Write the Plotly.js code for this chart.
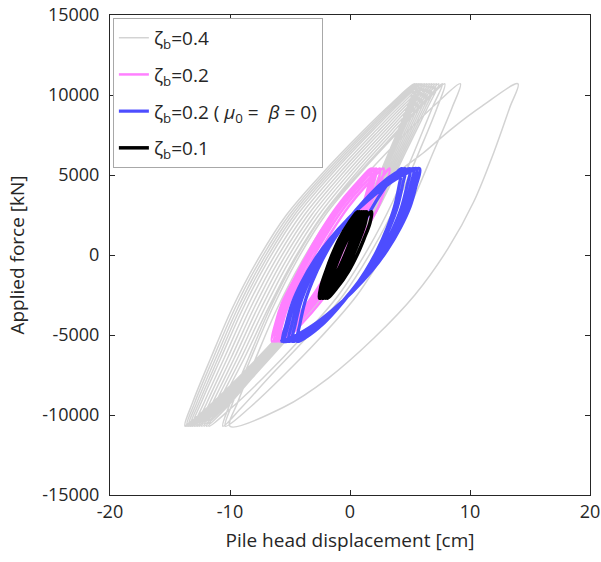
<!DOCTYPE html>
<html>
<head>
<meta charset="utf-8">
<script src="https://cdn.plot.ly/plotly-3.0.1.min.js"></script>
<style>html,body{margin:0;padding:0;background:#fff;}#chart{width:601px;height:562px;}</style>
</head>
<body>
<div id="chart"></div>
<script>
// ---- Data (displacement in cm, force in kN) ----
const seriesNames = [
  "ζ<sub>b</sub>=0.4",
  "ζ<sub>b</sub>=0.2",
  "ζ<sub>b</sub>=0.2 ( <i>μ</i><sub>0</sub> =  <i>β</i> = 0)",
  "ζ<sub>b</sub>=0.1"
];

// zeta_b = 0.4 (grey)
const grayX = [
  0,0.5,1.3,2.5,4.2,6.1,8.5,11,14,
  13.3,12.0,10.3,8.2,5.4,2.0,-1.8,-5.5,-10,
  -9.35,-7.85,-6.05,-4.05,-1.55,1.55,4.75,7.25,9.2,
  8.5,6.95,5.15,3.1,0.6,-2.5,-5.75,-8.3,-10.4,
  -9.75,-8.25,-6.45,-4.5,-2.05,0.95,4.0,6.2,7.9,
  7.25,5.75,3.95,1.95,-0.55,-3.65,-6.8,-9.0,-10.6,
  -9.95,-8.45,-6.65,-4.7,-2.25,0.8,3.85,6.05,7.7,
  6.85,5.35,3.55,1.55,-0.95,-4.05,-7.25,-9.8,-11.75,
  -10.7,-8.8,-6.8,-4.8,-2.3,0.6,3.6,5.8,7.4,
  6.45,4.65,2.65,0.45,-2.05,-5.15,-8.15,-10.25,-11.95,
  -10.94,-9.08,-7.1,-5.1,-2.6,0.32,3.34,5.57,7.2,
  6.28,4.51,2.53,0.35,-2.15,-5.25,-8.27,-10.41,-12.15,
  -11.18,-9.36,-7.4,-5.4,-2.9,0.04,3.08,5.34,7.0,
  6.11,4.37,2.41,0.25,-2.25,-5.35,-8.39,-10.57,-12.35,
  -11.42,-9.64,-7.7,-5.7,-3.2,-0.24,2.82,5.11,6.8,
  5.94,4.23,2.29,0.15,-2.35,-5.45,-8.51,-10.73,-12.55,
  -11.66,-9.92,-8.0,-6.0,-3.5,-0.52,2.56,4.88,6.6,
  5.77,4.09,2.17,0.05,-2.45,-5.55,-8.63,-10.89,-12.75,
  -11.9,-10.2,-8.3,-6.3,-3.8,-0.8,2.3,4.65,6.4,
  5.6,3.95,2.05,-0.05,-2.55,-5.65,-8.75,-11.05,-12.95,
  -12.14,-10.48,-8.6,-6.6,-4.1,-1.08,2.04,4.42,6.2,
  5.43,3.81,1.93,-0.15,-2.65,-5.75,-8.87,-11.21,-13.15,
  -12.38,-10.76,-8.9,-6.9,-4.4,-1.36,1.78,4.19,6.0,
  5.26,3.67,1.81,-0.25,-2.75,-5.85,-8.99,-11.37,-13.3,
  -12.56,-10.97,-9.13,-7.13,-4.63,-1.57,1.59,4.02,5.85,
  5.13,3.57,1.72,-0.32,-2.82,-5.92,-9.08,-11.49,-13.45,
  -12.74,-11.18,-9.35,-7.35,-4.85,-1.78,1.39,3.85,5.7,
  5.01,3.46,1.63,-0.4,-2.9,-6.0,-9.17,-11.61,-13.6,
  -12.92,-11.39,-9.57,-7.57,-5.07,-1.99,1.2,3.67,5.55,
  4.88,3.36,1.54,-0.47,-2.97,-6.07,-9.26,-11.73,-13.75,
  -13.1,-11.6,-9.8,-7.8,-5.3,-2.2,1.0,3.5,5.4,
  4.75,3.25,1.45,-0.55,-3.05,-6.15,-9.35,-11.85,-13.75
];
const grayY = [
  0,1500,2800,4060,5300,6375,7900,9300,10700,
  9190,6440,3310,440,-2500,-5190,-7690,-9500,-10700,
  -9190,-6440,-3310,-440,2500,5190,7690,9500,10700,
  9190,6440,3310,440,-2500,-5190,-7690,-9500,-10700,
  -9190,-6440,-3310,-440,2500,5190,7690,9500,10700,
  9190,6440,3310,440,-2500,-5190,-7690,-9500,-10700,
  -9190,-6440,-3310,-440,2500,5190,7690,9500,10700,
  9190,6440,3310,440,-2500,-5190,-7690,-9500,-10700,
  -9190,-6440,-3310,-440,2500,5190,7690,9500,10700,
  9190,6440,3310,440,-2500,-5190,-7690,-9500,-10700,
  -9190,-6440,-3310,-440,2500,5190,7690,9500,10700,
  9190,6440,3310,440,-2500,-5190,-7690,-9500,-10700,
  -9190,-6440,-3310,-440,2500,5190,7690,9500,10700,
  9190,6440,3310,440,-2500,-5190,-7690,-9500,-10700,
  -9190,-6440,-3310,-440,2500,5190,7690,9500,10700,
  9190,6440,3310,440,-2500,-5190,-7690,-9500,-10700,
  -9190,-6440,-3310,-440,2500,5190,7690,9500,10700,
  9190,6440,3310,440,-2500,-5190,-7690,-9500,-10700,
  -9190,-6440,-3310,-440,2500,5190,7690,9500,10700,
  9190,6440,3310,440,-2500,-5190,-7690,-9500,-10700,
  -9190,-6440,-3310,-440,2500,5190,7690,9500,10700,
  9190,6440,3310,440,-2500,-5190,-7690,-9500,-10700,
  -9190,-6440,-3310,-440,2500,5190,7690,9500,10700,
  9190,6440,3310,440,-2500,-5190,-7690,-9500,-10700,
  -9190,-6440,-3310,-440,2500,5190,7690,9500,10700,
  9190,6440,3310,440,-2500,-5190,-7690,-9500,-10700,
  -9190,-6440,-3310,-440,2500,5190,7690,9500,10700,
  9190,6440,3310,440,-2500,-5190,-7690,-9500,-10700,
  -9190,-6440,-3310,-440,2500,5190,7690,9500,10700,
  9190,6440,3310,440,-2500,-5190,-7690,-9500,-10700,
  -9190,-6440,-3310,-440,2500,5190,7690,9500,10700,
  9190,6440,3310,440,-2500,-5190,-7690,-9500,-10700
];

// zeta_b = 0.2 (pink)
const pinkX = [
  0,0.6,1.3,2.2,3.3,
  2.98,2.36,1.25,0.12,-1.1,-2.52,-4.04,-5.6,
  -5.32,-4.76,-3.73,-2.66,-1.49,-0.14,1.31,2.8,
  2.51,1.93,0.87,-0.25,-1.45,-2.86,-4.36,-5.9,
  -5.62,-5.06,-4.03,-2.96,-1.79,-0.44,1.01,2.5,
  2.21,1.64,0.59,-0.51,-1.7,-3.09,-4.57,-6.1,
  -5.82,-5.27,-4.26,-3.2,-2.04,-0.71,0.72,2.2,
  1.92,1.35,0.31,-0.77,-1.96,-3.32,-4.79,-6.3,
  -6.02,-5.47,-4.46,-3.4,-2.24,-0.91,0.52,2.0,
  1.72,1.15,0.11,-0.97,-2.16,-3.52,-4.99,-6.5,
  -6.22,-5.67,-4.66,-3.6,-2.44,-1.11,0.32,1.8,
  1.53,0.98,-0.02,-1.07,-2.21,-3.53,-4.94,-6.4
];
const pinkY = [
  0,1500,2800,4300,5400,
  4300,3000,1500,0,-1500,-3000,-4300,-5400,
  -4300,-3000,-1500,0,1500,3000,4300,5400,
  4300,3000,1500,0,-1500,-3000,-4300,-5400,
  -4300,-3000,-1500,0,1500,3000,4300,5400,
  4300,3000,1500,0,-1500,-3000,-4300,-5400,
  -4300,-3000,-1500,0,1500,3000,4300,5400,
  4300,3000,1500,0,-1500,-3000,-4300,-5400,
  -4300,-3000,-1500,0,1500,3000,4300,5400,
  4300,3000,1500,0,-1500,-3000,-4300,-5400,
  -4300,-3000,-1500,0,1500,3000,4300,5400,
  4300,3000,1500,0,-1500,-3000,-4300,-5400
];

// zeta_b = 0.2, mu0 = beta = 0 (blue)
const blueX = [
  0,0.6,1.3,2.2,3.2,4.3,
  4.08,3.7,3.1,2.27,1.3,0.1,-1.1,-2.38,-3.58,-4.4,
  -4.17,-3.78,-3.16,-2.3,-1.3,-0.06,1.19,2.5,3.75,4.6,
  4.36,3.95,3.3,2.41,1.36,0.06,-1.23,-2.61,-3.91,-4.8,
  -4.55,-4.12,-3.45,-2.52,-1.42,-0.07,1.28,2.72,4.07,5.0,
  4.74,4.3,3.61,2.65,1.52,0.13,-1.27,-2.74,-4.14,-5.1,
  -4.83,-4.38,-3.67,-2.68,-1.51,-0.08,1.36,2.88,4.31,5.3,
  5.02,4.56,3.82,2.81,1.61,0.14,-1.34,-2.91,-4.38,-5.4,
  -5.12,-4.64,-3.89,-2.85,-1.62,-0.11,1.4,3.0,4.51,5.55,
  5.26,4.78,4.01,2.96,1.71,0.17,-1.37,-3.0,-4.54,-5.6,
  -5.31,-4.81,-4.03,-2.95,-1.67,-0.1,1.48,3.15,4.72,5.8,
  5.5,5.0,4.2,3.1,1.8,0.2,-1.4,-3.1,-4.7,-5.8
];
const blueY = [
  0,1000,2200,3400,4500,5400,
  4300,3000,1700,300,-1000,-2300,-3400,-4400,-5100,-5400,
  -4300,-3000,-1700,-300,1000,2300,3400,4400,5100,5400,
  4300,3000,1700,300,-1000,-2300,-3400,-4400,-5100,-5400,
  -4300,-3000,-1700,-300,1000,2300,3400,4400,5100,5400,
  4300,3000,1700,300,-1000,-2300,-3400,-4400,-5100,-5400,
  -4300,-3000,-1700,-300,1000,2300,3400,4400,5100,5400,
  4300,3000,1700,300,-1000,-2300,-3400,-4400,-5100,-5400,
  -4300,-3000,-1700,-300,1000,2300,3400,4400,5100,5400,
  4300,3000,1700,300,-1000,-2300,-3400,-4400,-5100,-5400,
  -4300,-3000,-1700,-300,1000,2300,3400,4400,5100,5400,
  4300,3000,1700,300,-1000,-2300,-3400,-4400,-5100,-5400
];

// zeta_b = 0.1 (black)
const blackX = [
  0,0.4,0.95,1.8,
  1.66,1.16,0.59,-0.11,-1.03,-1.9,
  -1.78,-1.33,-0.82,-0.2,0.62,1.4,
  1.27,0.81,0.27,-0.38,-1.24,-2.05,
  -1.93,-1.48,-0.97,-0.35,0.47,1.25,
  1.12,0.66,0.12,-0.53,-1.39,-2.2,
  -2.08,-1.63,-1.12,-0.5,0.32,1.1,
  0.97,0.52,-0.01,-0.65,-1.5,-2.3,
  -2.18,-1.74,-1.23,-0.62,0.19,0.95,
  0.82,0.37,-0.16,-0.8,-1.65,-2.45,
  -2.33,-1.89,-1.38,-0.77,0.04,0.8,
  0.67,0.22,-0.3,-0.93,-1.77,-2.55,
  -2.43,-2.0,-1.5,-0.9,-0.1,0.65,
  0.53,0.09,-0.42,-1.03,-1.84,-2.6
];
const blackY = [
  0,1000,2000,2700,
  2000,1000,0,-1000,-2000,-2700,
  -2000,-1000,0,1000,2000,2700,
  2000,1000,0,-1000,-2000,-2700,
  -2000,-1000,0,1000,2000,2700,
  2000,1000,0,-1000,-2000,-2700,
  -2000,-1000,0,1000,2000,2700,
  2000,1000,0,-1000,-2000,-2700,
  -2000,-1000,0,1000,2000,2700,
  2000,1000,0,-1000,-2000,-2700,
  -2000,-1000,0,1000,2000,2700,
  2000,1000,0,-1000,-2000,-2700,
  -2000,-1000,0,1000,2000,2700,
  2000,1000,0,-1000,-2000,-2700
];

const xTickVals = [-20, -10, 0, 10, 20];
const xTickText = ["-20", "-10", "0", "10", "20"];
const yTickVals = [-15000, -10000, -5000, 0, 5000, 10000, 15000];
const yTickText = ["-15000", "-10000", "-5000", "0", "5000", "10000", "15000"];

// ---- Traces ----
const FONT = "Open Sans, DejaVu Sans, sans-serif";
const traces = [
  {x: grayX, y: grayY, name: seriesNames[0], legendgroup: "a",
   mode: "lines", line: {color: "#d3d3d3", width: 1.5, shape: "spline", smoothing: 1}},
  {x: pinkX, y: pinkY, name: seriesNames[1], legendgroup: "b",
   mode: "lines", line: {color: "#ff80ff", width: 2.5, shape: "spline", smoothing: 1}},
  {x: blueX, y: blueY, name: seriesNames[2], legendgroup: "c",
   mode: "lines", line: {color: "#4d4dff", width: 3.2, shape: "spline", smoothing: 1}},
  {x: blackX, y: blackY, name: seriesNames[3], legendgroup: "d",
   mode: "lines", line: {color: "#000000", width: 3.5, shape: "spline", smoothing: 1}}
];

const axisCommon = {
  showgrid: false, zeroline: false, showline: true, mirror: "ticks",
  linecolor: "#262626", linewidth: 1, ticks: "inside", ticklen: 5,
  tickcolor: "#262626", tickwidth: 1,
  tickfont: {family: FONT, size: 18, color: "#262626"},
  tickmode: "array"
};

const layout = {
  width: 601, height: 562,
  margin: {l: 110, r: 11, t: 15, b: 67, pad: 0},
  paper_bgcolor: "#ffffff", plot_bgcolor: "#ffffff",
  font: {family: FONT, color: "#262626"},
  showlegend: true,
  legend: {
    x: 0.006, y: 0.994, xanchor: "left", yanchor: "top",
    bgcolor: "#ffffff", bordercolor: "#a8a8a8", borderwidth: 1,
    font: {family: FONT, size: 19, color: "#262626"},
    tracegroupgap: 9, traceorder: "grouped"
  },
  xaxis: Object.assign({}, axisCommon, {
    range: [-20, 20], tickvals: xTickVals, ticktext: xTickText,
    title: {text: "Pile head displacement [cm]", font: {family: FONT, size: 19, color: "#262626"}, standoff: 12}
  }),
  yaxis: Object.assign({}, axisCommon, {
    range: [-15000, 15000], tickvals: yTickVals, ticktext: yTickText,
    ticklabelstandoff: 6,
    title: {text: "Applied force [kN]", font: {family: FONT, size: 19, color: "#262626"}, standoff: 12}
  })
};

Plotly.newPlot("chart", traces, layout, {staticPlot: true, displayModeBar: false});
</script>
</body>
</html>
